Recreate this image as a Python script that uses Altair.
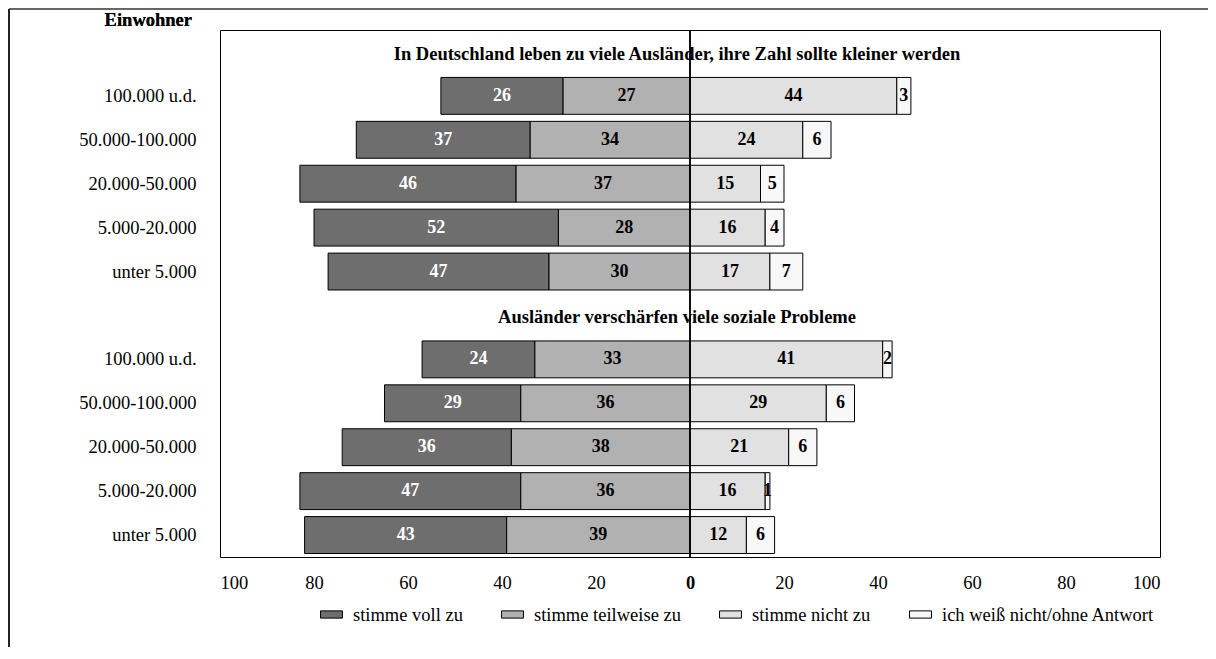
import altair as alt
import pandas as pd

groups = ["A", "B"]
headings = ["In Deutschland leben zu viele Ausländer, ihre Zahl sollte kleiner werden",
            "Ausländer verschärfen viele soziale Probleme"]
cities = ["100.000 u.d.", "50.000-100.000", "20.000-50.000", "5.000-20.000", "unter 5.000"]
categories = ["stimme voll zu", "stimme teilweise zu", "stimme nicht zu", "ich weiß nicht/ohne Antwort"]
colors = ["#6e6e6e", "#b1b1b1", "#e1e1e1", "#f8f8f8"]

voll_A = [26, 37, 46, 52, 47]
teil_A = [27, 34, 37, 28, 30]
nicht_A = [44, 24, 15, 16, 17]
weiss_A = [3, 6, 5, 4, 7]

voll_B = [24, 29, 36, 47, 43]
teil_B = [33, 36, 38, 36, 39]
nicht_B = [41, 29, 21, 16, 12]
weiss_B = [2, 6, 6, 1, 6]

vals = {"A": (voll_A, teil_A, nicht_A, weiss_A), "B": (voll_B, teil_B, nicht_B, weiss_B)}

order = []
rows = []
for g in groups:
    order.append(g + "|")
    v, t, n, w = vals[g]
    for i, c in enumerate(cities):
        key = g + "|" + c
        order.append(key)
        segs = [(-(v[i] + t[i]), -t[i], v[i], 0),
                (-t[i], 0, t[i], 1),
                (0, n[i], n[i], 2),
                (n[i], n[i] + w[i], w[i], 3)]
        for s, e, val, k in segs:
            rows.append({"row": key, "start": s, "end": e, "mid": (s + e) / 2,
                         "val": val, "cat": categories[k], "catidx": k,
                         "tc": "white" if k == 0 else "black"})
df = pd.DataFrame(rows)
hd = pd.DataFrame({"row": [g + "|" for g in groups], "text": headings})

FONT = "Liberation Serif"
FS = 18.5
W, H = 940, 527

yenc = alt.Y("row:N", sort=order,
             scale=alt.Scale(domain=order, paddingInner=0.16, paddingOuter=0.08),
             axis=alt.Axis(title=None, labelExpr="split(datum.value, '|')[1]",
                           ticks=False, domain=False, labelPadding=24,
                           labelFont=FONT, labelFontSize=FS, labelColor="black",
                           labelAlign="right"))
xscale = alt.Scale(domain=[-100, 100], nice=False, zero=False)

bars = alt.Chart(df).mark_bar(stroke="black", strokeWidth=1).encode(
    x=alt.X("start:Q", scale=xscale,
            axis=alt.Axis(title=None, values=list(range(-100, 101, 20)),
                          labelExpr="abs(datum.value)", ticks=False, domain=False,
                          grid=False, labelPadding=16, labelFont=FONT, labelFontSize=FS,
                          labelColor="black",
                          labelFontWeight={"condition": {"test": "datum.value == 0", "value": "bold"},
                                           "value": "normal"})),
    x2="end:Q",
    y=yenc,
    color=alt.Color("cat:N", scale=alt.Scale(domain=categories, range=colors),
                    legend=alt.Legend(title=None, orient="none", direction="horizontal",
                                      legendX=100, legendY=573, columnPadding=36,
                                      symbolType="M-1,-0.33H1V0.33H-1Z", symbolSize=480,
                                      symbolStrokeColor="black", symbolStrokeWidth=1,
                                      labelFont=FONT, labelFontSize=FS, labelColor="black",
                                      labelOffset=10, labelLimit=400)),
    order=alt.Order("catidx:Q"),
)

labels = alt.Chart(df).mark_text(font=FONT, fontSize=18, fontWeight="bold").encode(
    x=alt.X("mid:Q", scale=xscale),
    y=alt.Y("row:N", sort=order),
    text="val:Q",
    color=alt.Color("tc:N", scale=None),
)

heads = alt.Chart(hd).mark_text(font=FONT, fontSize=FS, fontWeight="bold", color="black",
                                dx=-13, dy=2).encode(
    x=alt.datum(0),
    y=alt.Y("row:N", sort=order),
    text="text:N",
)

zero = alt.Chart(hd).mark_rule(color="black", strokeWidth=1.5).encode(
    x=alt.datum(0), y=alt.value(0), y2=alt.value(H))

einw = alt.Chart(hd).mark_text(font=FONT, fontSize=FS, fontWeight="bold", color="black",
                               align="right").encode(
    x=alt.value(-28), y=alt.value(-10), text=alt.value("Einwohner"))

frame_top = alt.Chart(hd).mark_rule(color="#666666", strokeWidth=2).encode(
    x=alt.value(-211), x2=alt.value(990), y=alt.value(-21))
frame_left = alt.Chart(hd).mark_rule(color="#222222", strokeWidth=2).encode(
    x=alt.value(-211), y=alt.value(-21), y2=alt.value(620))

chart = alt.layer(bars, labels, heads, zero, einw, frame_top, frame_left).properties(
    width=W, height=H,
    autosize=alt.AutoSizeParams(type="none"),
    padding={"left": 212, "top": 22, "right": 48, "bottom": 90},
).configure(background="white").configure_view(stroke="black", strokeWidth=1)

chart.save("out.html", embed_options={"renderer": "svg", "actions": False})
